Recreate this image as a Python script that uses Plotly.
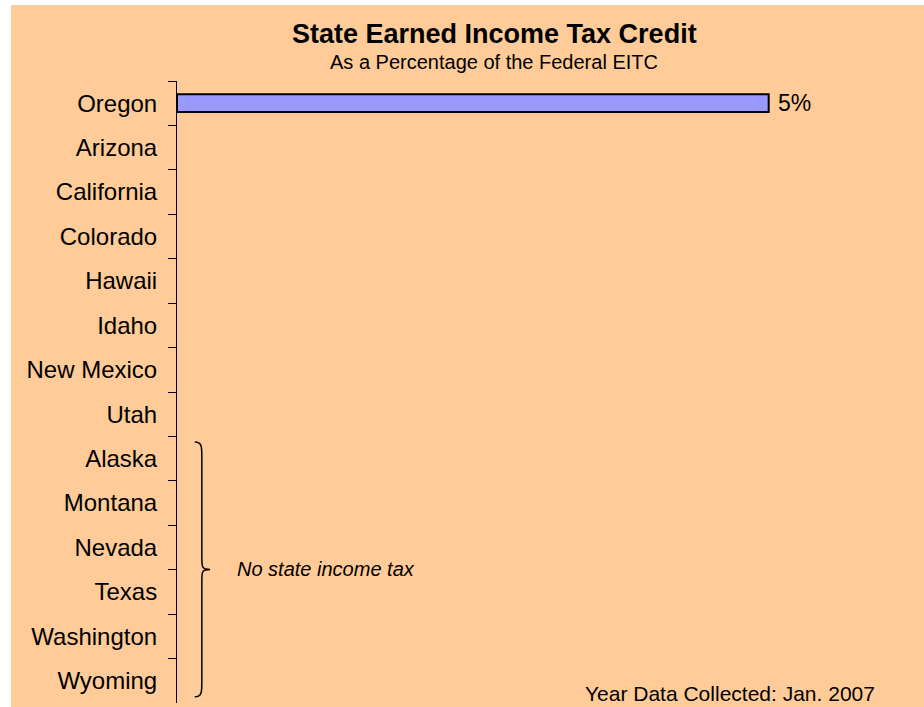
import plotly.graph_objects as go

# ─────────────────────────────────────────
# DATA
# ─────────────────────────────────────────

states = [
    "Oregon", "Arizona", "California", "Colorado", "Hawaii", "Idaho",
    "New Mexico", "Utah", "Alaska", "Montana", "Nevada", "Texas",
    "Washington", "Wyoming",
]
credit_pct = [5, 0, 0, 0, 0, 0, 0, 0, 0, 0, 0, 0, 0, 0]
bar_labels = [f"{v}%" if v > 0 else "" for v in credit_pct]

no_tax_first = "Alaska"
no_tax_last  = "Wyoming"

BG   = "#FFCC99"
BAR  = "#9999FF"
FONT = "Liberation Sans, Arial, sans-serif"

fig = go.Figure(go.Bar(
    x             = credit_pct,
    y             = states,
    orientation   = "h",
    width         = 0.4,
    marker        = dict(
        color = BAR,
        line  = dict(color="black",
                     width=[2 if v > 0 else 0 for v in credit_pct]),
    ),
    text          = bar_labels,
    texttemplate  = " %{text}",
    textposition  = "outside",
    constraintext = "none",
    textfont      = dict(size=23, color="black", family=FONT),
    cliponaxis    = False,
))

# brace for the states without income tax (category index positions)
i0 = states.index(no_tax_first) - 0.375
i1 = states.index(no_tax_last) + 0.36
im = (i0 + i1) / 2
xa, xb, xc = 0.15, 0.21, 0.28
brace = (
    f"M {xa},{i0} C {xb},{i0} {xb},{i0+0.1} {xb},{i0+0.35} "
    f"L {xb},{im-0.25} C {xb},{im-0.05} {xb},{im} {xc},{im} "
    f"C {xb},{im} {xb},{im+0.05} {xb},{im+0.25} "
    f"L {xb},{i1-0.35} C {xb},{i1-0.1} {xb},{i1} {xa},{i1}"
)
fig.add_shape(type="path", path=brace, xref="x", yref="y",
              line=dict(color="black", width=1.5))

fig.add_annotation(
    x=0.49, y=im, xref="x", yref="y", xanchor="left", yanchor="middle",
    text="<i>No state income tax</i>", showarrow=False,
    font=dict(size=20, color="black", family=FONT),
)

# title / subtitle / footnote (paper coords of the plot area)
fig.add_annotation(
    x=0.4465, y=1.076, xref="paper", yref="paper",
    xanchor="center", yanchor="middle", showarrow=False,
    text="<b>State Earned Income Tax Credit</b>",
    font=dict(size=27, color="black", family=FONT),
)
fig.add_annotation(
    x=0.4465, y=1.031, xref="paper", yref="paper",
    xanchor="center", yanchor="middle", showarrow=False,
    text="As a Percentage of the Federal EITC",
    font=dict(size=20, color="black", family=FONT),
)
fig.add_annotation(
    x=0.986, y=0.016, xref="paper", yref="paper",
    xanchor="right", yanchor="middle", showarrow=False,
    text="Year Data Collected: Jan. 2007",
    font=dict(size=21, color="black", family=FONT),
)

fig.update_layout(
    xaxis = dict(
        range    = [0, 6],
        visible  = False,
        showgrid = False,
        zeroline = False,
    ),
    yaxis = dict(
        autorange         = "reversed",
        showline          = True,
        linecolor         = "black",
        linewidth         = 1,
        ticks             = "outside",
        tickson           = "boundaries",
        ticklen           = 8,
        tickcolor         = "black",
        showgrid          = False,
        tickfont          = dict(size=24, color="black", family=FONT),
        ticklabelstandoff = 14,
    ),
    width         = 913,
    height        = 702,
    margin        = dict(t=76, b=4, l=166, r=37),
    paper_bgcolor = BG,
    plot_bgcolor  = BG,
    showlegend    = False,
    font          = dict(family=FONT, color="black"),
)

fig.write_html(
    "out.html",
    post_script="document.body.style.margin='5px 0 0 11px';",
)
